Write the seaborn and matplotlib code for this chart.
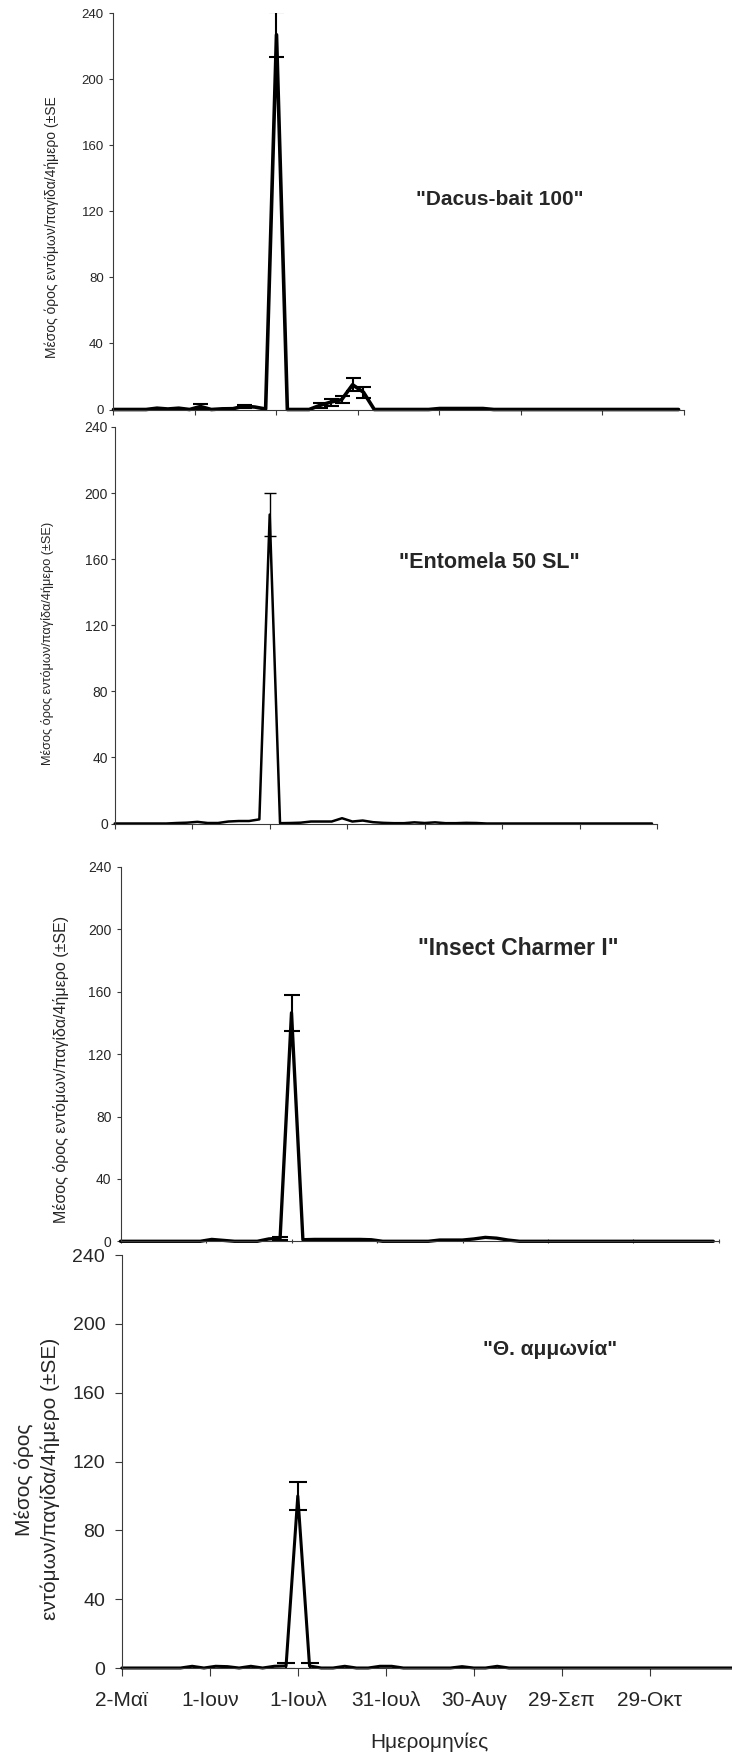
import numpy as np
import pandas as pd
import matplotlib

matplotlib.use("Agg")

import matplotlib.pyplot as plt
import seaborn as sns

# trap periods, counted in days from 2 May (one mean per 4-day period)
days = [0, 4, 8, 12, 16, 20, 24, 28, 32, 36, 40, 44, 48, 52, 56, 60, 64, 68,
        72, 76, 80, 84, 88, 92, 96, 100, 104, 108, 112, 116, 120, 124, 128,
        132, 136, 140, 144, 148, 152, 156, 160, 164, 168, 172, 176, 180, 184,
        188, 192, 196, 200, 204, 208]

dacus = [0, 0, 0, 0, 0.8, 0.3, 0.8, 0, 1.8, 0, 0.4, 0.5, 2.0, 1.5, 0.3, 227,
         0, 0, 0, 2.5, 4.5, 6.0, 15.0, 10.5, 0, 0, 0, 0, 0, 0, 0.6, 0.6, 0.6,
         0.6, 0.6, 0, 0, 0, 0, 0, 0, 0, 0, 0, 0, 0, 0, 0, 0, 0, 0, 0, 0]
entomela = [0, 0, 0, 0, 0, 0, 0.3, 0.5, 1.0, 0.3, 0.3, 1.2, 1.5, 1.5, 2.5,
            187, 0.2, 0.3, 0.5, 1.2, 1.2, 1.2, 3.2, 1.2, 1.8, 0.8, 0.4, 0.2,
            0.2, 0.7, 0.3, 0.7, 0.2, 0.2, 0.4, 0.3, 0, 0, 0, 0, 0, 0, 0, 0, 0,
            0, 0, 0, 0, 0, 0, 0, 0]
charmer = [0, 0, 0, 0, 0, 0, 0, 0, 1.2, 0.6, 0, 0, 0, 1.5, 2.0, 146.5, 1.0,
           1.2, 1.2, 1.2, 1.2, 1.2, 1.0, 0, 0, 0, 0, 0, 0.8, 0.8, 0.8, 1.5,
           2.5, 2.0, 0.8, 0, 0, 0, 0, 0, 0, 0, 0, 0, 0, 0, 0, 0, 0, 0, 0, 0, 0]
ammonia = [0, 0, 0, 0, 0, 0, 1.0, 0, 1.0, 0.8, 0, 1.0, 0, 1.0, 1.2, 100, 1.2,
           0, 0, 1.0, 0, 0, 1.0, 1.0, 0, 0, 0, 0, 0, 0.8, 0, 0, 1.0, 0, 0, 0,
           0, 0, 0, 0, 0, 0, 0, 0, 0, 0, 0, 0, 0, 0, 0, 0, 0]

# standard errors, only for the periods where a bar is visible
dacus_se_days = [32, 48, 60, 76, 80, 84, 88, 92]
dacus_se = [1.4, 1.0, 13.5, 1.7, 2.1, 2.0, 4.0, 3.4]
entomela_se_days = [60]
entomela_se = [13.0]
charmer_se_days = [56, 60]
charmer_se = [1.0, 11.5]
ammonia_se_days = [56, 60, 64]
ammonia_se = [1.5, 8.0, 1.5]

tick_days = [0, 30, 60, 90, 120, 150, 180, 210]
tick_labels = ["2-Μαϊ", "1-Ιουν", "1-Ιουλ", "31-Ιουλ", "30-Αυγ", "29-Σεπ",
               "29-Οκτ", ""]
y_ticks = [0, 40, 80, 120, 160, 200, 240]

names = ['"Dacus-bait 100"', '"Entomela 50 SL"', '"Insect Charmer I"',
         '"Θ. αμμωνία"']
ylabels = [
    "Μέσος όρος εντόμων/παγίδα/4ήμερο (±SE",
    "Μέσος όρος εντόμων/παγίδα/4ήμερο (±SE)",
    "Μέσος όρος εντόμων/παγίδα/4ήμερο (±SE)",
    "Μέσος όρος\nεντόμων/παγίδα/4ήμερο (±SE)",
]

df = pd.DataFrame({
    "day": days,
    "dacus": dacus,
    "entomela": entomela,
    "charmer": charmer,
    "ammonia": ammonia,
})
series_cols = ["dacus", "entomela", "charmer", "ammonia"]
se_days = [dacus_se_days, entomela_se_days, charmer_se_days, ammonia_se_days]
se_vals = [dacus_se, entomela_se, charmer_se, ammonia_se]

sns.set_style("ticks")
plt.rcParams["font.family"] = ["Liberation Sans", "DejaVu Sans"]

fig = plt.figure(figsize=(7.32, 17.54), dpi=100)

# panel geometry and per-panel styling (the original panels were pasted
# together from separate charts, so each one differs a little)
rects = [
    [0.15505, 0.76653, 0.77937, 0.22588],
    [0.15670, 0.53050, 0.74110, 0.22606],
    [0.16462, 0.29231, 0.81762, 0.21340],
    [0.16639, 0.04903, 0.84153, 0.23546],
]
line_w = [2.6, 1.8, 2.4, 2.2]
err_w = [1.5, 1.0, 1.5, 1.5]
cap_sz = [5.4, 4.3, 6.1, 6.8]
ytick_fs = [9.5, 10, 10, 14]
ytick_pad = [4, 2, 3.5, 7]
ylabel_fs = [10, 9.2, 11.5, 15]
ylabel_xy = [(-0.108, 0.46), (-0.124, 0.455), (-0.099, 0.459), (-0.137, 0.457)]
name_fs = [15, 15.5, 16.5, 15]
name_xy = [(0.677, 0.529), (0.690, 0.657), (0.664, 0.783), (0.696, 0.770)]
xtick_len = [3.6, 3.6, 2.5, 5.5]
xtick_dir = ["out", "out", "inout", "out"]
spine_col = "#3a3a3a"

for i, col in enumerate(series_cols):
    ax = fig.add_axes(rects[i])
    sns.lineplot(data=df, x="day", y=col, ax=ax, color="black",
                 linewidth=line_w[i], legend=False, clip_on=False,
                 solid_joinstyle="round")

    means = df.set_index("day").loc[se_days[i], col]
    ax.errorbar(se_days[i], means.values, yerr=se_vals[i], fmt="none",
                ecolor="black", elinewidth=err_w[i], capsize=cap_sz[i],
                capthick=err_w[i])

    ax.set_xlim(0, 210)
    ax.set_ylim(0, 240)
    ax.set_yticks(y_ticks)
    ax.set_xticks(tick_days)
    sns.despine(ax=ax)
    for side in ["left", "bottom"]:
        ax.spines[side].set_color(spine_col)
        ax.spines[side].set_linewidth(0.8)

    ax.tick_params(axis="y", labelsize=ytick_fs[i], length=3, width=0.8,
                   color=spine_col, pad=ytick_pad[i], direction="out")
    ax.tick_params(axis="x", length=xtick_len[i], width=0.8, color=spine_col,
                   direction=xtick_dir[i])

    if i == 3:
        ax.set_xticklabels(tick_labels)
        ax.tick_params(axis="x", labelsize=15, pad=11)
        ax.tick_params(axis="y", length=5)
        ax.set_xlabel("Ημερομηνίες", fontsize=15)
        ax.xaxis.set_label_coords(0.5, -0.179)
        ax.xaxis.label.set_va("center")
    else:
        ax.set_xticklabels([])
        ax.set_xlabel("")

    ax.set_ylabel(ylabels[i], fontsize=ylabel_fs[i], linespacing=1.45)
    ax.yaxis.set_label_coords(*ylabel_xy[i])
    ax.yaxis.label.set_ha("center")
    ax.yaxis.label.set_va("center")

    ax.text(name_xy[i][0], name_xy[i][1], names[i], transform=ax.transAxes,
            ha="center", va="center", fontsize=name_fs[i], fontweight="bold")

fig.savefig("out.png", dpi=100)
plt.close(fig)
